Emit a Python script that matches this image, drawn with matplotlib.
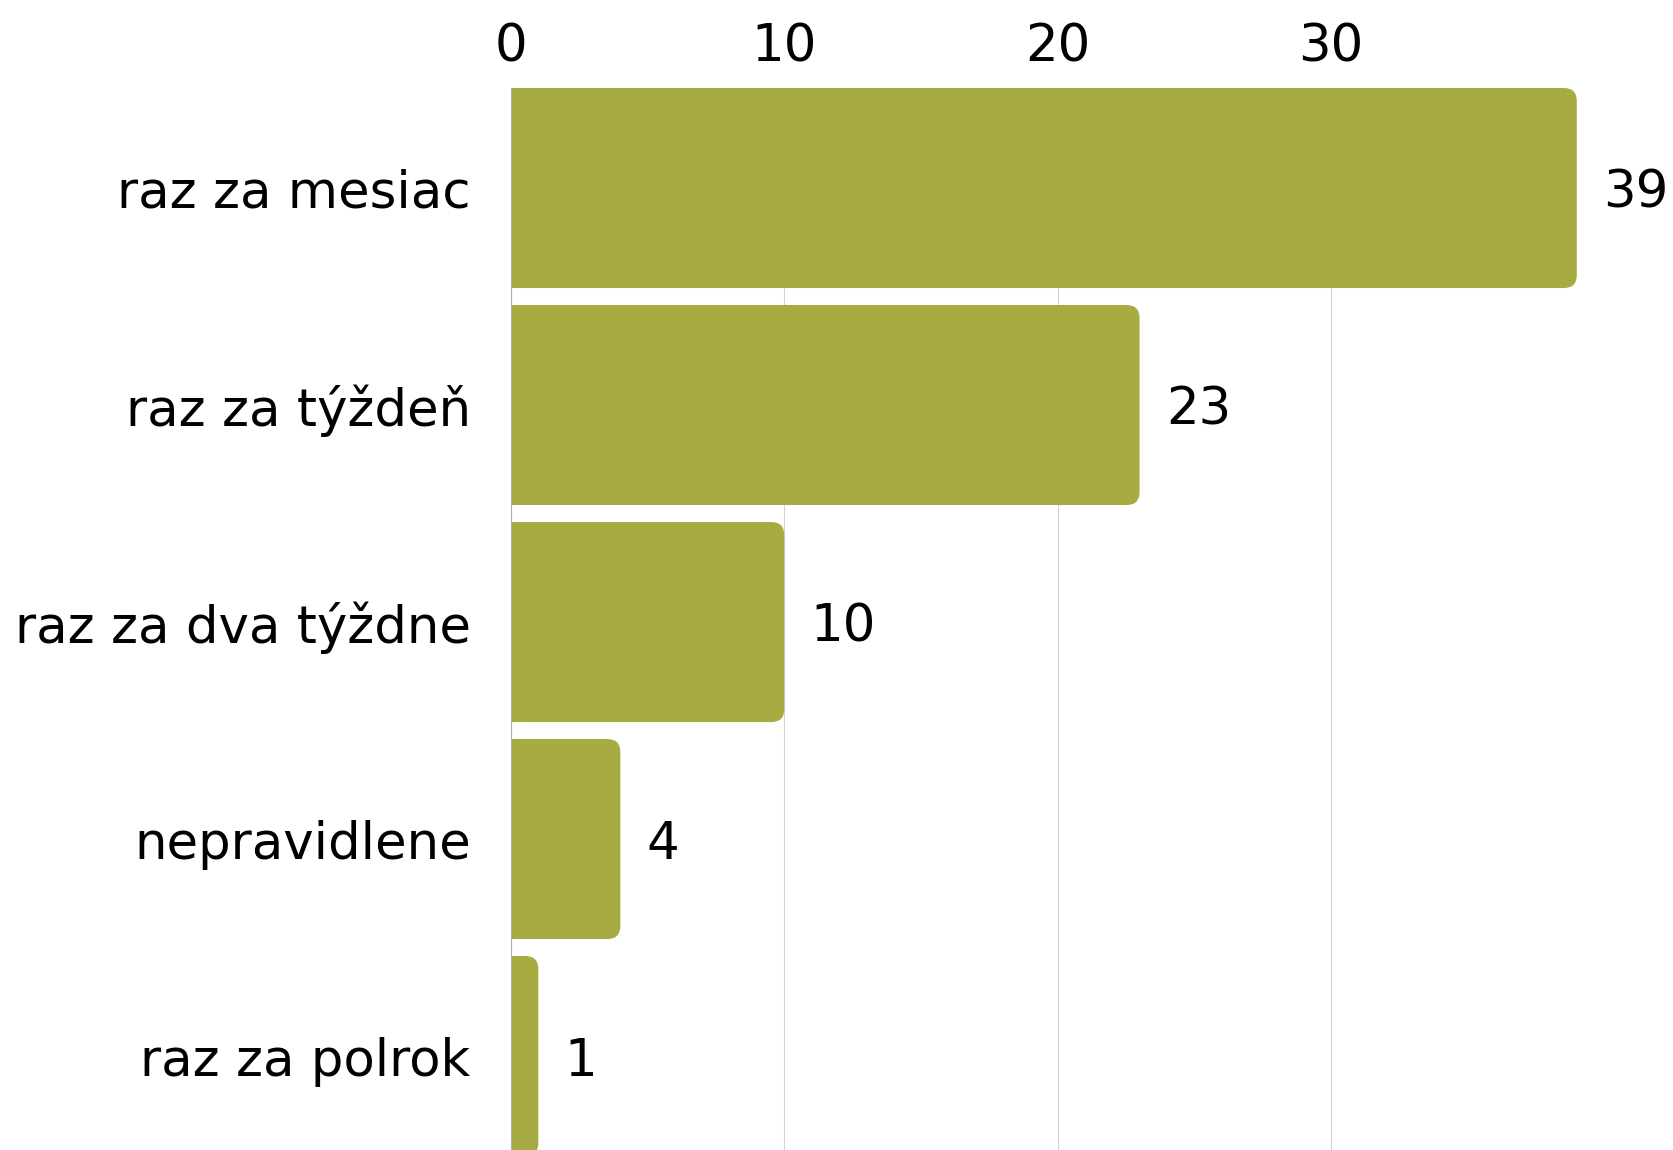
import matplotlib
matplotlib.use('Agg')
import matplotlib.pyplot as plt
from matplotlib.patches import FancyBboxPatch

categories = ['raz za mesiac', 'raz za týždeň', 'raz za dva týždne', 'nepravidlene', 'raz za polrok']
counts = [39, 23, 10, 4, 1]
tick_values = [0, 10, 20, 30]

bar_color = '#a7ab42'
grid_color = '#d3d3d3'

plt.rcParams['font.family'] = ['DejaVu Sans']

fig = plt.figure(figsize=(16.73, 11.5), dpi=100)
ax = fig.add_axes([511 / 1673, 0.0, (1585 - 511) / 1673, 1 - 88 / 1150])

ax.set_xlim(0, 39.3)
ax.set_ylim(4.433, -0.461)

# pixel scale, used for the rounded bar ends
px_x = ax.bbox.width / 39.3
px_y = ax.bbox.height / (4.433 + 0.461)
radius = 13 / px_x

ypos = list(range(len(categories)))
bars = ax.barh(ypos, [c - radius for c in counts], height=0.9217, color=bar_color, zorder=2)
for b, c in zip(bars, counts):
    ax.add_patch(FancyBboxPatch((0, b.get_y()), c, b.get_height(),
                                boxstyle='round,pad=0,rounding_size=%f' % radius,
                                mutation_aspect=px_x / px_y,
                                facecolor=bar_color, edgecolor='none', zorder=2))
    ax.annotate(str(c), (c, b.get_y() + b.get_height() / 2), xytext=(19, 0),
                textcoords='offset points', va='center_baseline', ha='left',
                fontsize=37, color='black', annotation_clip=False)

ax.xaxis.tick_top()
ax.set_xticks(tick_values)
ax.set_xticklabels([str(t) for t in tick_values])
ax.set_yticks(ypos)
ax.set_yticklabels(categories)
ax.tick_params(axis='x', length=0, pad=11, labelsize=37)
ax.tick_params(axis='y', length=0, pad=29, labelsize=37)

ax.grid(axis='x', color=grid_color, linewidth=0.8, zorder=0)
ax.set_axisbelow(True)
for s in ['top', 'right', 'bottom']:
    ax.spines[s].set_visible(False)
ax.spines['left'].set_color('#b0b0b0')
ax.spines['left'].set_linewidth(0.8)
ax.spines['left'].set_zorder(3)

fig.savefig('out.png', dpi=100)
